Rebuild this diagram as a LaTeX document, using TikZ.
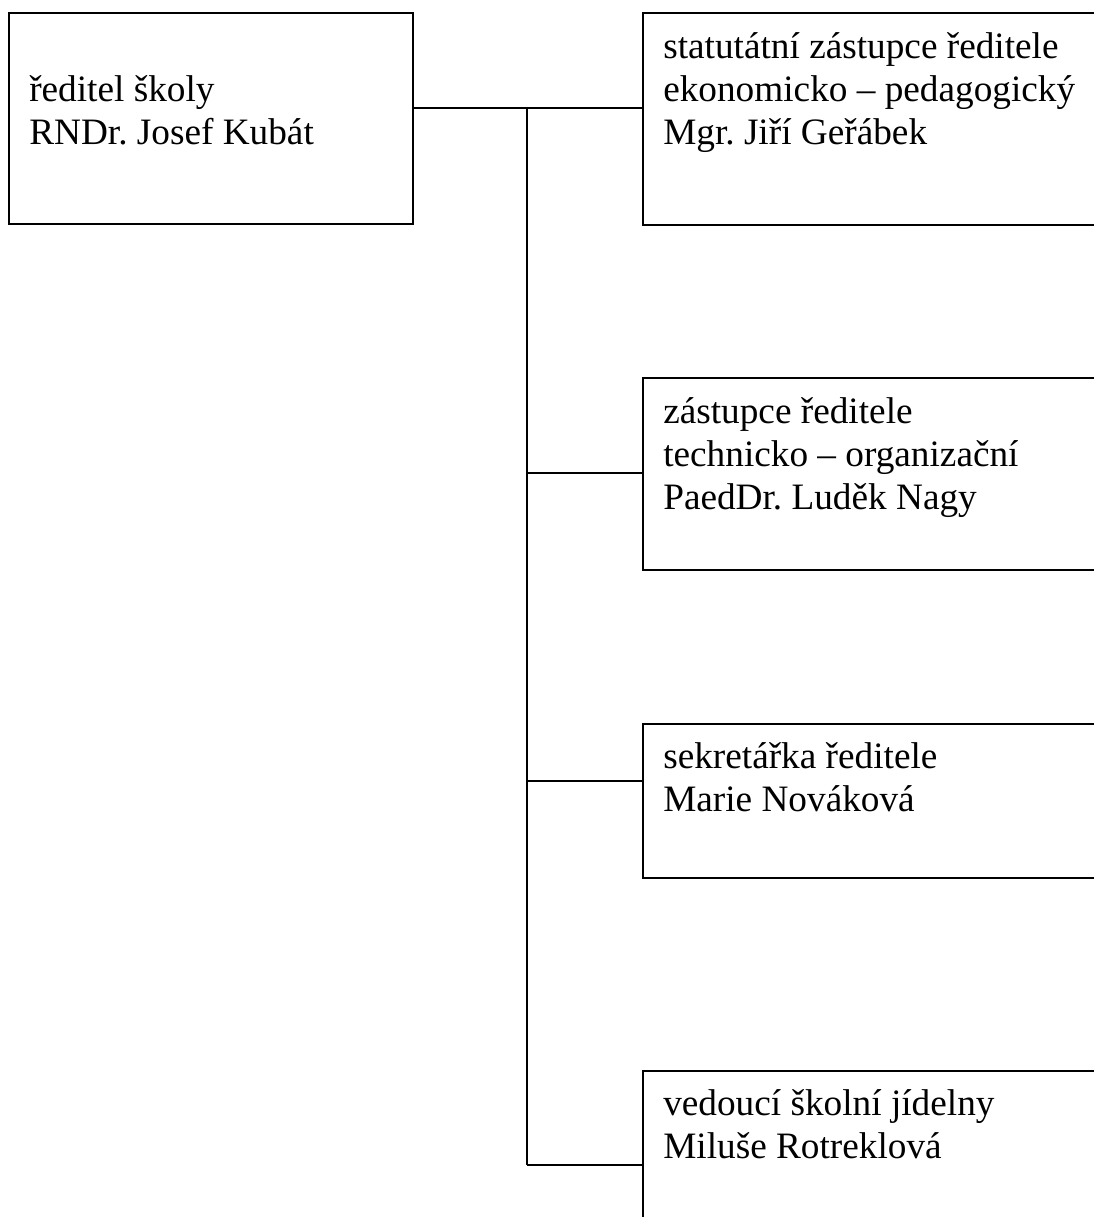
\documentclass[tikz,border=0pt]{standalone}
\usepackage{fontspec}
\setmainfont{Liberation Serif}
\usepackage{tikz}
\frenchspacing
\pgfdeclarelayer{edgelayer}
\pgfdeclarelayer{nodelayer}
\pgfsetlayers{edgelayer,nodelayer,main}
\tikzstyle{none}=[inner sep=0pt]
\tikzstyle{post}=[rectangle,draw=black,fill=white,line width=1.4pt,inner sep=0pt,anchor=north west,minimum width=12.5cm]
\tikzstyle{caption}=[inner sep=0pt,anchor=north west,align=left,font=\fontsize{26.5pt}{30.6pt}\selectfont]
\tikzstyle{wire}=[draw=black,line width=1.4pt]

\begin{document}
\begin{tikzpicture}[x=0.025cm,y=-0.025cm]
	\useasboundingbox (0,0) rectangle (1093,1217);
	\clip (0,0) rectangle (1093,1217);
	\begin{pgfonlayer}{nodelayer}
		\node [style=post,minimum width=10.1cm,minimum height=5.275cm] (dir) at (8,12) {};
		\node [style=post,minimum height=5.3cm] (z1) at (642,12) {};
		\node [style=post,minimum height=4.8cm] (z2) at (642,377) {};
		\node [style=post,minimum height=3.85cm] (z3) at (642,723) {};
		\node [style=post,minimum height=5cm] (z4) at (642,1070) {};
		\node [style=caption] (tdir) at (29,71) {\strut ředitel školy\\RNDr. Josef Kubát};
		\node [style=caption] (tz1) at (663,28) {\strut statutátní zástupce ředitele\\ekonomicko – pedagogický\\Mgr. Jiří Geřábek};
		\node [style=caption] (tz2) at (663,393) {\strut zástupce ředitele\\technicko – organizační\\PaedDr. Luděk Nagy};
		\node [style=caption] (tz3) at (663,738) {\strut sekretářka ředitele\\Marie Nováková};
		\node [style=caption] (tz4) at (663,1085) {\strut vedoucí školní jídelny\\Miluše Rotreklová};
		\coordinate (j1) at (527,108);
		\coordinate (j2) at (527,473);
		\coordinate (j3) at (527,781);
		\coordinate (j4) at (527,1165);
	\end{pgfonlayer}
	\begin{pgfonlayer}{edgelayer}
		\draw [style=wire] (dir.east |- j1) to (z1.west |- j1);
		\draw [style=wire] (j1) to (j4);
		\draw [style=wire] (j2) to (z2.west |- j2);
		\draw [style=wire] (j3) to (z3.west |- j3);
		\draw [style=wire] (j4) to (z4.west |- j4);
	\end{pgfonlayer}
\end{tikzpicture}
\end{document}
